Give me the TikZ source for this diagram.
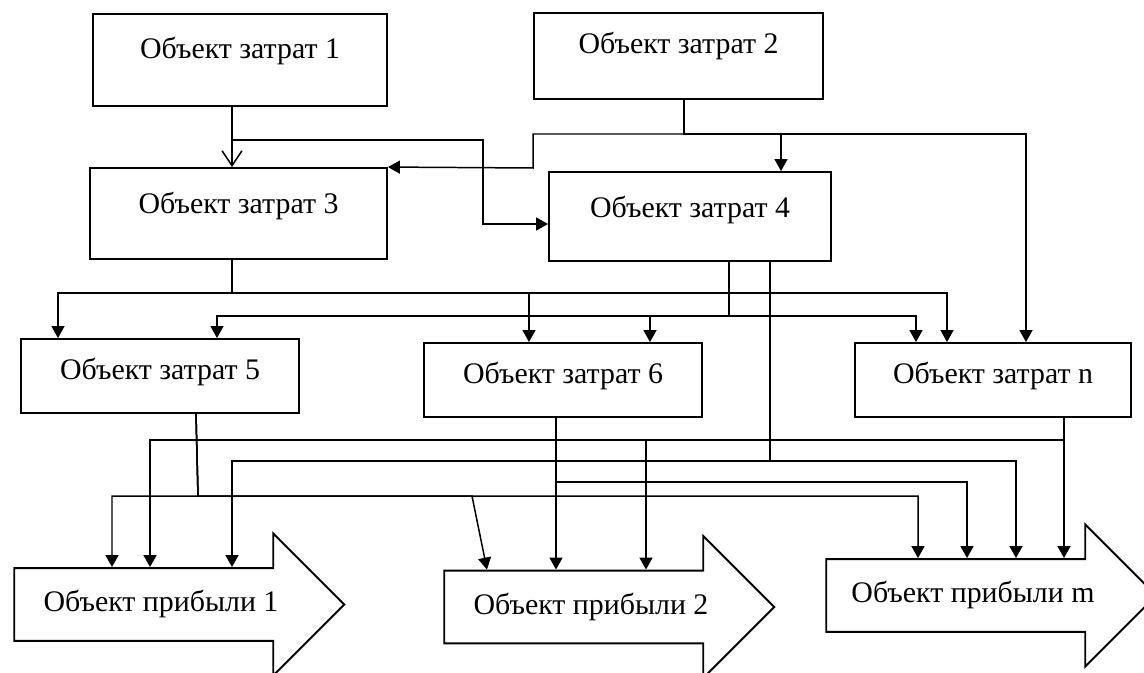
\documentclass[tikz,border=0pt]{standalone}
\usepackage{fontspec}
\setmainfont{Liberation Serif}
\usetikzlibrary{arrows.meta,shapes.arrows}
\tikzset{
	costbox/.style={draw, line width=1.1pt, text height=0.4cm, font=\fontsize{17}{20}\selectfont},
	profit/.style={draw, line width=1.1pt, single arrow, single arrow head extend=0.69cm, single arrow tip angle=90, minimum height=6.6cm, minimum width=2.8cm, inner xsep=0pt, inner ysep=0.43cm, text height=0.42cm, text depth=0.14cm, font=\fontsize{17}{20}\selectfont},
	link/.style={line width=0.85pt, -{Triangle[length=0.24cm,width=0.26cm]}}
}

\begin{document}
\begin{tikzpicture}[x=0.02cm, y=-0.02cm]
		%%%%% START %%%%%
		
		\useasboundingbox (0,0) rectangle (1144,673);
		\clip (0,0) rectangle (1144,673);
		
		\node[costbox, minimum width=5.88cm, minimum height=1.84cm, text depth=0.48cm] (b1) at (240,60) {Объект затрат 1};
		\node[costbox, minimum width=5.78cm, minimum height=1.72cm, text depth=0.52cm] (b2) at (678.5,56) {Объект затрат 2};
		\node[costbox, minimum width=5.94cm, minimum height=1.82cm, text depth=0.42cm] (b3) at (238.5,213.5) {Объект затрат 3};
		\node[costbox, minimum width=5.64cm, minimum height=1.78cm, text depth=0.36cm] (b4) at (690,216.5) {Объект затрат 4};
		
		\node[costbox, minimum width=5.56cm, minimum height=1.48cm, text depth=0.26cm] (b5) at (160,376) {Объект затрат 5};
		\node[costbox, minimum width=5.56cm, minimum height=1.48cm, text depth=0.28cm] (b6) at (563,380) {Объект затрат 6};
		\node[costbox, minimum width=5.52cm, minimum height=1.48cm, text depth=0.28cm] (bn) at (993,380) {Объект затрат n};
		
		\node[profit] (p1) at (161,604.5) {Объект прибыли 1};
		\node[profit] (p2) at (591,607) {Объект прибыли 2};
		\node[profit] (pm) at (973,595.5) {Объект прибыли m};
		
		% Объект затрат 1
		\draw[link, -{Straight Barb[length=0.3cm,width=0.4cm]}] (232,0 |- b1.south) -- (232,0 |- b3.north);
		\draw[link] (232,0 |- b1.south) -- (232,140) -- (483,140) -- (483,224) -- (b4.west |- 0,224);
		
		% Объект затрат 2
		\draw[link] (684,0 |- b2.south) -- (684,134) -- (533,134) -- (533,168) -- (b3.north east);
		\draw[link] (684,0 |- b2.south) -- (684,134) -| (781,0 |- b4.north);
		\draw[link] (684,0 |- b2.south) -- (684,134) -| (1026,0 |- bn.north);
		
		% Объект затрат 3
		\draw[link] (232,0 |- b3.south) -- (232,293) -| (58,0 |- b5.north);
		\draw[link] (232,0 |- b3.south) -- (232,293) -| (529,0 |- b6.north);
		\draw[link] (232,0 |- b3.south) -- (232,293) -| (947,0 |- bn.north);
		
		% Объект затрат 4
		\draw[link] (729,0 |- b4.south) -- (729,316) -| (217,0 |- b5.north);
		\draw[link] (729,0 |- b4.south) -- (729,316) -| (650,0 |- b6.north);
		\draw[link] (729,0 |- b4.south) -- (729,316) -| (916,0 |- bn.north);
		\draw[link] (770,0 |- b4.south) -- (770,461) -| (232,0 |- p1.north);
		\draw[link] (770,0 |- b4.south) -- (770,461) -| (1016,0 |- pm.north);
		
		% Объект затрат 5
		\draw[link] (196,0 |- b5.south) -- (198,496) -| (112,0 |- p1.north);
		\draw[link] (196,0 |- b5.south) -- (198,496) -- (472,496) -- (487,0 |- p2.north);
		\draw[link] (196,0 |- b5.south) -- (198,496) -| (918,0 |- pm.north);
		
		% Объект затрат 6
		\draw[link] (556,0 |- b6.south) -- (556,0 |- p2.north);
		\draw[link] (556,0 |- b6.south) -- (556,482) -| (967,0 |- pm.north);
		
		% Объект затрат n
		\draw[link] (1064,0 |- bn.south) -- (1064,0 |- pm.north);
		\draw[link] (1064,0 |- bn.south) -- (1064,440) -| (150,0 |- p1.north);
		\draw[link] (1064,0 |- bn.south) -- (1064,440) -| (646,0 |- p2.north);
		
		%%%%% END %%%%%
	\end{tikzpicture}
\end{document}
